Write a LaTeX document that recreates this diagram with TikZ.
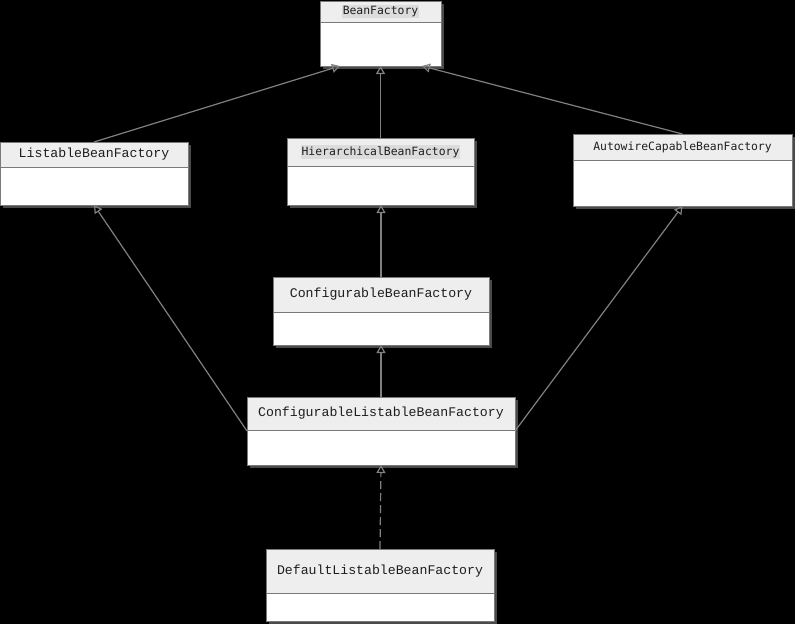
\documentclass[tikz,border=0pt]{standalone}
\usepackage{fontspec}
\usetikzlibrary{arrows.meta}
\newfontfamily\monoA{Liberation Mono}
\newfontfamily\monoB{DejaVu Sans Mono}
\definecolor{headc}{HTML}{EEEEEE}
\definecolor{borderc}{HTML}{7A7A7A}
\definecolor{shadowc}{HTML}{4A4A4A}
\definecolor{linec}{HTML}{808080}
\definecolor{txtc}{HTML}{1E1E1E}
\definecolor{hlc}{HTML}{DCDCDC}
\tikzset{
  classbox/.style={draw=borderc, line width=1pt, fill=white, inner sep=0pt, outer sep=0pt, rectangle},
  fontA/.style={font=\monoA\fontsize{13.2}{15}\selectfont, text=txtc, inner sep=0pt},
  fontB/.style={font=\monoB\fontsize{11.4}{13}\selectfont, text=txtc, inner sep=1pt},
  fontBhl/.style={fontB, fill=hlc},
  inherit/.style={draw=linec, line width=1.2pt, -{Triangle[open, length=8pt, width=9pt]}},
  realize/.style={inherit, dash pattern=on 8pt off 4pt}
}
\newcommand\umlclass[8]{%
  \fill[shadowc] (#2+3,#3+3) rectangle (#4+3,#5+3);
  \node[classbox, minimum width={(#4-#2)*1pt}, minimum height={(#5-#3)*1pt}] (#1) at ({(#2+#4)/2},{(#3+#5)/2}) {};
  \fill[headc] (#2+0.5,#3+0.5) rectangle (#4-0.5,#6);
  \draw[borderc, line width=1pt] (#2,#6) -- (#4,#6);
  \draw[borderc, line width=1pt] (#1.north west) rectangle (#1.south east);
  \node[#7] (#1-t) at ({(#2+#4)/2},{(#3+#6)/2}) {#8};
}
\begin{document}
\begin{tikzpicture}[x=1pt, y=-1pt]
\fill[black] (0,0) rectangle (795,624);
\useasboundingbox (0,0) rectangle (795,624);
\umlclass{bf}{320}{1}{441}{66}{22}{fontBhl}{BeanFactory}
\umlclass{lbf}{0}{142}{188}{205}{167}{fontA}{ListableBeanFactory}
\umlclass{hbf}{287}{138}{474}{205}{166}{fontBhl}{HierarchicalBeanFactory}
\umlclass{acbf}{573}{134}{792}{206}{160}{fontB}{AutowireCapableBeanFactory}
\umlclass{cbf}{273}{277}{489}{345}{312}{fontA}{ConfigurableBeanFactory}
\umlclass{clbf}{247}{397}{515}{465}{430}{fontA}{ConfigurableListableBeanFactory}
\umlclass{dlbf}{266}{549}{494}{621}{593}{fontA}{DefaultListableBeanFactory}
\draw[inherit] (lbf.north) -- ([xshift=20pt]bf.south west);
\draw[inherit] (hbf.north) -- (hbf.north |- bf.south);
\draw[inherit] (acbf.north) -- ([xshift=-19pt]bf.south east);
\draw[inherit] (cbf.north) -- (cbf.north |- hbf.south);
\draw[inherit] (clbf.west) -- (lbf.south);
\draw[inherit] (clbf.east) -- (acbf.south);
\draw[inherit] (clbf.north) -- (clbf.north |- cbf.south);
\draw[realize] (dlbf.north) -- (clbf.south);
\end{tikzpicture}
\end{document}
